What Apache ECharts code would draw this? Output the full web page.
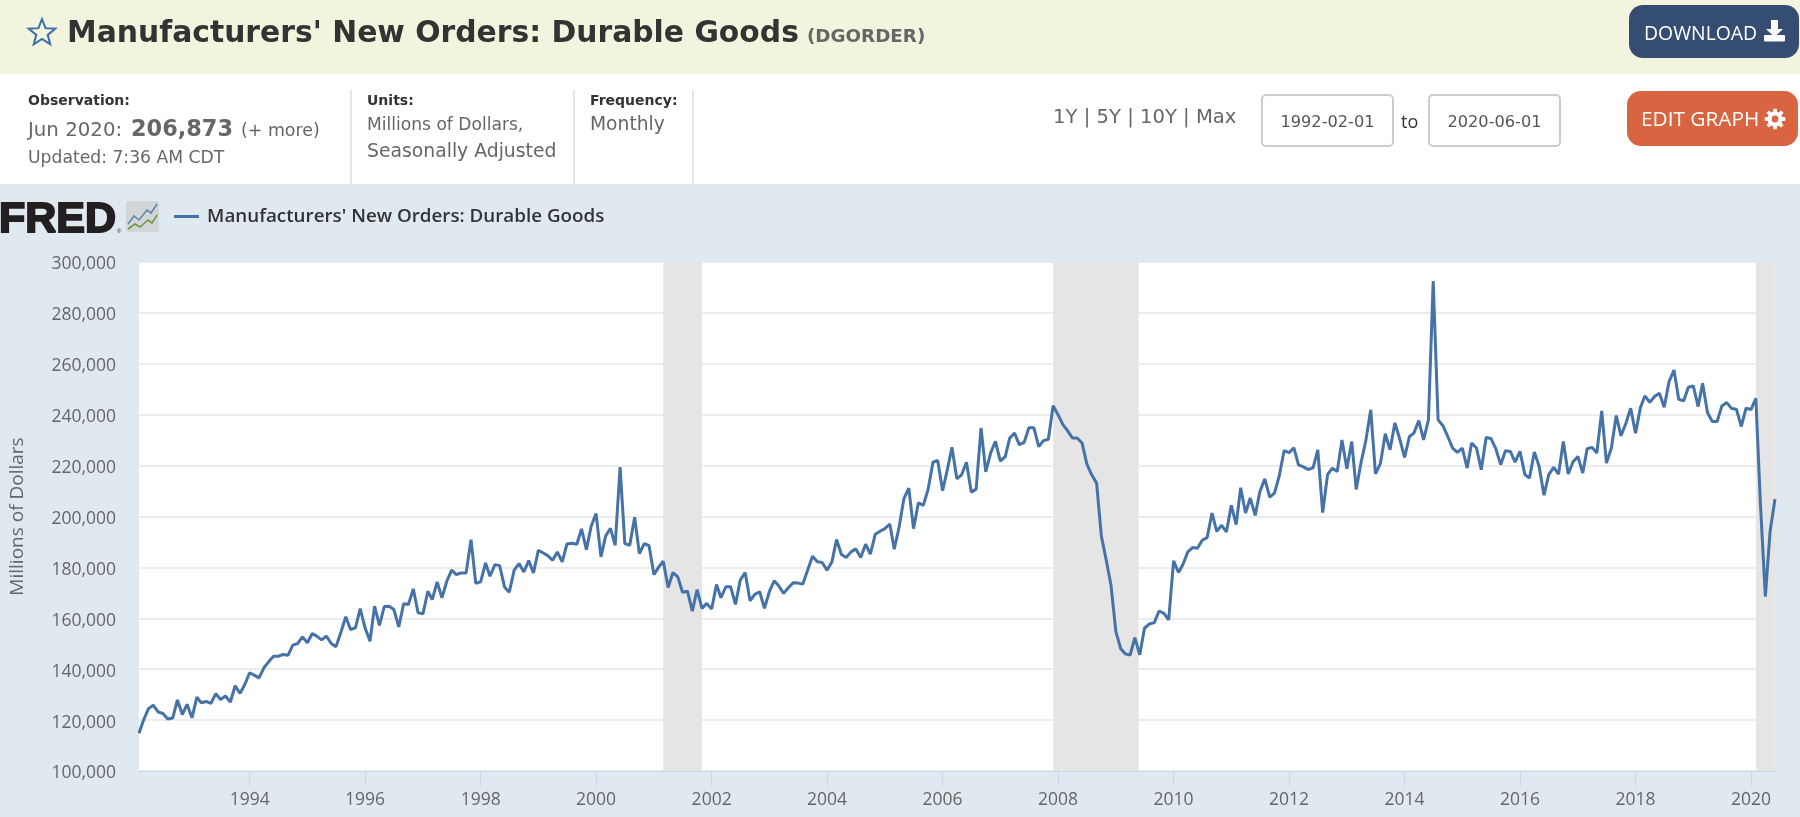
<!DOCTYPE html>
<html>
<head>
<meta charset="utf-8">
<title>Manufacturers' New Orders: Durable Goods</title>
<script src="https://cdn.jsdelivr.net/npm/echarts@6/dist/echarts.min.js"></script>
<style>html,body{margin:0;padding:0;background:#e1e9f0}#chart{width:1800px;height:817px}</style>
</head>
<body>
<div id="chart"></div>
<script>
const seriesName = "Manufacturers' New Orders: Durable Goods";
const startYear = 1992, startMonth = 1; // first observation: Feb 1992
const tickYears = [1994,1996,1998,2000,2002,2004,2006,2008,2010,2012,2014,2016,2018,2020];
const recessions = [['2001-03-01','2001-11-01'],['2007-12-01','2009-05-25'],['2020-02-01','2020-06-01']];
const orders = [
114800,120000,124500,125900,123200,122600,120400,120800,127900,122200,126200,
120900,129000,126800,127300,126600,130400,128100,129450,127100,133500,130500,134000,
138600,137550,136600,140550,142900,145100,145100,145800,145500,149450,150100,152700,
150400,154000,153000,151500,153000,150100,148800,154550,160600,155600,156250,163800,
156250,151000,164750,157200,164600,164750,163450,156650,165700,165400,171550,162150,
161750,170650,167370,174300,168000,174570,178900,177200,177840,177840,190900,173780,
174300,181760,176530,181100,180700,172340,170250,178900,181500,178230,182680,177840,
186730,185680,184640,182800,186080,182150,189200,189480,189080,195100,187000,196150,
201120,184120,192220,195360,188700,219430,189350,188700,199680,185420,189350,188560,
177180,180200,182410,172080,177970,176270,170250,170640,162800,171300,163900,165870,
163650,173300,168100,172400,172400,165480,175000,178000,166900,169400,170440,163900,
170440,174750,172800,169800,172000,173960,173830,173440,179050,184400,182180,181930,
178920,182180,190930,185060,183880,186100,187275,183880,189100,185190,193020,194190,
195235,197060,187140,195890,206980,211160,195235,205410,204370,210630,221335,221990,
210110,218700,227200,214800,216380,221335,209590,210760,234775,217550,224990,229560,
221730,223550,230730,232820,228250,229165,234900,234900,227470,229820,230340,243520,
240000,236080,233730,230860,230860,228900,220680,216380,213110,192360,182840,173050,
154780,148000,146040,145520,152430,145650,156090,157780,158300,162870,161960,159350,
182580,178010,181140,186100,187800,187540,190670,191710,201370,194190,196540,193930,
204370,196800,211290,201370,207240,200455,209850,214810,207630,209200,216115,225900,
225120,226950,220290,219510,218460,219120,226160,201500,216500,218990,217680,230080,
218725,229430,210630,221335,229820,241950,216770,220750,232500,226200,236800,230500,
223230,231450,232760,237720,230150,237980,292530,237980,235630,231450,226890,225190,
226890,219050,228840,226890,218400,231060,230670,226630,220360,225840,225580,221400,
225580,216450,215140,225320,219710,208350,216450,219310,216700,229500,216700,221400,
223620,217100,226630,227150,224930,241500,221010,226890,239670,231700,236670,242545,
232760,242810,247370,244900,247110,248420,242940,253000,257550,246070,245420,250770,
251290,243200,252330,240850,237320,237320,243460,244760,242400,242150,235370,242545,
242020,246460,204700,168550,194260,206873
];
const points = orders.map((v, i) => [new Date(startYear, startMonth + i, 1).getTime(), v]);
const tickTimes = tickYears.map(y=>new Date(y,0,1).getTime());

const OS = '"Open Sans"', DV = '"DejaVu Sans"', LS = '"Liberation Sans"';
const rect = (x,y,w,h,fill,r,stroke,lw) => ({type:'rect',silent:true,shape:{x,y,width:w,height:h,r:r||0},style:{fill,stroke:stroke||null,lineWidth:lw||0}});
// y is the text baseline; converted to the vertical middle of the line
const txt = (x,y,text,size,fill,family,weight,align) => ({type:'text',silent:true,style:{x,y:y-size*0.28,text,fill,font:`${weight||'normal'} ${size}px ${family}`,align:align||'left',verticalAlign:'middle'}});
const poly = (points,fill,stroke,lw) => ({type:'polygon',silent:true,shape:{points},style:{fill:fill||null,stroke:stroke||null,lineWidth:lw||0}});
const pline = (points,stroke,lw) => ({type:'polyline',silent:true,shape:{points},style:{fill:null,stroke,lineWidth:lw}});
function star(cx,cy,R,r){const p=[];for(let i=0;i<10;i++){const a=-Math.PI/2+i*Math.PI/5,q=i%2?r:R;p.push([cx+q*Math.cos(a),cy+q*Math.sin(a)]);}return p;}
function gear(cx,cy,R,r,n){const p=[];for(let i=0;i<n;i++){const a=i*2*Math.PI/n,w=Math.PI/n*0.55;
 [[r,a-w*1.3],[R,a-w*0.75],[R,a+w*0.75],[r,a+w*1.3]].forEach(([q,t])=>p.push([cx+q*Math.cos(t),cy+q*Math.sin(t)]));}return p;}

const fredText = txt(-1,232,'FRED',43,'#231f20',LS,'bold');
fredText.style.stroke = '#231f20'; fredText.style.lineWidth = 2;

const chrome = [
 rect(0,0,1800,74,'#f2f4de'),
 rect(0,74,1800,110,'#ffffff'),
 poly(star(42,33,14,6),null,'#3b6ea8',2),
 txt(67,43,"Manufacturers' New Orders: Durable Goods",29.8,'#333333',DV,'bold'),
 txt(807,42,'(DGORDER)',18.3,'#666666',DV,'bold'),
 rect(1629,5,170,53,'#354d70',14),
 txt(1644,40,'DOWNLOAD',19.4,'#ffffff',OS),
 poly([[1771,20],[1778,20],[1778,29],[1783,29],[1774.5,37],[1766,29],[1771,29]],'#ffffff'),
 rect(1764,35,21,6.5,'#ffffff',1),
 txt(28,105,'Observation:',14,'#333333',DV,'bold'),
 txt(28,136.5,'Jun 2020:',19.8,'#666666',DV),
 txt(131,136.5,'206,873',22.4,'#666666',DV,'bold'),
 txt(241,136.5,'(+ more)',17.4,'#666666',DV),
 txt(28,163,'Updated: 7:36 AM CDT',17.2,'#666666',DV),
 rect(350,90,2,94,'#e1e9f0'),
 rect(573,90,2,94,'#e1e9f0'),
 rect(692,90,2,94,'#e1e9f0'),
 txt(367,105,'Units:',14,'#333333',DV,'bold'),
 txt(367,130,'Millions of Dollars,',17.1,'#666666',DV),
 txt(367,157,'Seasonally Adjusted',18.8,'#666666',DV),
 txt(590,105,'Frequency:',14,'#333333',DV,'bold'),
 txt(590,130,'Monthly',18.7,'#666666',DV),
 txt(1053,123,'1Y | 5Y | 10Y | Max',19.6,'#666666',DV),
 rect(1262,95,131,51,'#ffffff',4,'#cccccc',2),
 txt(1327.5,127,'1992-02-01',16.2,'#555555',DV,'normal','center'),
 txt(1401,128,'to',18,'#333333',OS),
 rect(1429,95,131,51,'#ffffff',4,'#cccccc',2),
 txt(1494.5,127,'2020-06-01',16.2,'#555555',DV,'normal','center'),
 rect(1627,91,171,55,'#d96442',14),
 txt(1641,126,'EDIT GRAPH',20.8,'#ffffff',OS),
 poly(gear(1775,119,10.5,7.5,8),'#ffffff'),
 {type:'circle',silent:true,shape:{cx:1775,cy:119,r:3.4},style:{fill:'#d96442'}},
 fredText,
 txt(117,233,'®',6,'#231f20',LS),
 rect(126,201,33,31,'#d3d6d8',3),
 pline([[128,224],[134,216],[139,220],[147,210],[151,213],[157,204]],'#5d89ad',1.6),
 pline([[128,229],[135,224],[140,227],[148,220],[152,223],[157,215]],'#6f9a45',1.6)
];

const chart = echarts.init(document.getElementById('chart'), null, {width:1800, height:817});
chart.setOption({
 animation:false,
 backgroundColor:'#e1e9f0',
 textStyle:{fontFamily:OS},
 graphic:{elements:chrome},
 legend:{show:true,left:174,top:207,padding:0,itemWidth:25,itemHeight:3,itemGap:8,
  formatter:n=>'\u2009'+n,
  textStyle:{fontFamily:OS,fontSize:18.8,fontWeight:600,color:'#333333'},
  data:[{name:seriesName,icon:'rect'}]},
 grid:{left:139,right:25,top:262,bottom:46,show:true,backgroundColor:'#ffffff',borderWidth:0,outerBoundsMode:'none'},
 xAxis:{type:'value',
  min:points[0][0],
  max:points[points.length-1][0],
  axisLine:{show:true,lineStyle:{color:'#ccd6eb',width:1.2}},
  axisTick:{show:true,length:15,lineStyle:{color:'#ccd6eb',width:1.2},customValues:tickTimes},
  axisLabel:{color:'#666666',fontSize:17.5,fontFamily:OS,margin:20,hideOverlap:false,
   customValues:tickTimes,
   formatter:v=>String(new Date(v).getFullYear())},
  splitLine:{show:false}},
 yAxis:{type:'value',min:100000,max:300000,interval:20000,
  name:'Millions of Dollars',nameLocation:'middle',nameRotate:90,nameGap:112,
  nameTextStyle:{color:'#666666',fontSize:19,fontFamily:OS},
  axisLine:{show:false},axisTick:{show:false},
  axisLabel:{color:'#666666',fontSize:17.5,fontFamily:OS,margin:23,verticalAlign:'top',lineHeight:5,formatter:v=>v.toLocaleString('en-US')},
  splitLine:{show:true,lineStyle:{color:'#e6e6e6',width:1.5}}},
 series:[{name:seriesName,type:'line',data:points,showSymbol:false,symbol:'none',
  lineStyle:{color:'#4572a7',width:3},itemStyle:{color:'#4572a7'},
  markArea:{silent:true,itemStyle:{color:'#e5e5e5',opacity:1},
   data:recessions.map(([a,b])=>[{xAxis:new Date(a+'T00:00:00').getTime()},{xAxis:new Date(b+'T00:00:00').getTime()}])}}]
});
</script>
</body>
</html>
